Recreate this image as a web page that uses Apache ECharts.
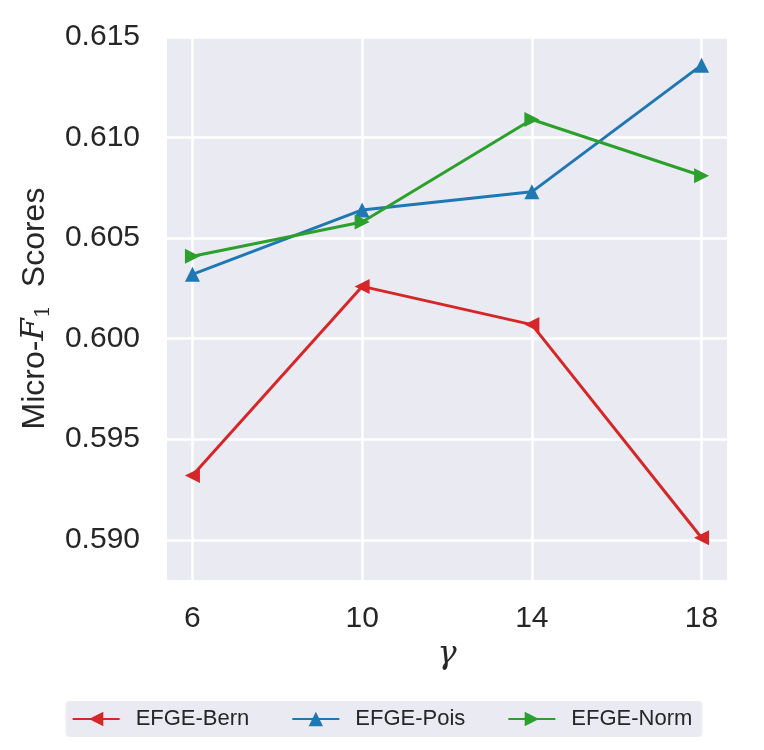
<!DOCTYPE html>
<html>
<head>
<meta charset="utf-8">
<script src="https://cdn.jsdelivr.net/npm/echarts@6/dist/echarts.min.js"></script>
<style>html,body{margin:0;padding:0;background:#fff}#c{width:764px;height:750px}</style>
</head>
<body>
<div id="c"></div>
<script>
const gammaValues = [6, 10, 14, 18];
const bern = [0.5932, 0.6026, 0.6007, 0.5901];
const pois = [0.6032, 0.6064, 0.6073, 0.6136];
const norm = [0.6041, 0.6058, 0.6109, 0.6081];
const yTicks = [0.590, 0.595, 0.600, 0.605, 0.610, 0.615];
const xTicks = [6, 10, 14, 18];
const seriesNames = ['EFGE-Bern', 'EFGE-Pois', 'EFGE-Norm'];
const colors = ['#d62728', '#1f77b4', '#2ca02c'];

const txt = '#262626';
const font = 'Liberation Sans';
const chart = echarts.init(document.getElementById('c'), null, {renderer: 'canvas'});

function mk(name, vals, color, rot) {
  return {
    name: name, type: 'line',
    data: gammaValues.map((g, i) => [g, vals[i]]),
    symbol: 'triangle', symbolSize: 15, symbolRotate: rot,
    showAllSymbol: true,
    lineStyle: {color: color, width: 3},
    itemStyle: {color: color},
    emphasis: {disabled: true},
    animation: false
  };
}

chart.setOption({
  animation: false,
  grid: {left: 167, right: 37, top: 37, bottom: 170, show: true, backgroundColor: '#EAEAF2', borderWidth: 0},
  xAxis: {
    type: 'value', min: 5.4, max: 18.6,
    name: 'γ', nameLocation: 'middle', nameGap: 58,
    nameTextStyle: {fontSize: 32, fontStyle: 'italic', fontFamily: 'DejaVu Serif', color: txt},
    axisLine: {show: false},
    axisTick: {show: false, customValues: xTicks},
    axisLabel: {customValues: xTicks, fontSize: 30, fontFamily: font, color: txt, margin: 24},
    splitLine: {show: true, lineStyle: {color: '#ffffff', width: 2.5}}
  },
  yAxis: {
    type: 'value', min: 0.588, max: 0.615,
    name: 'Micro-{f|F}{s|1}  Scores', nameLocation: 'middle', nameGap: 110,
    nameTextStyle: {
      fontSize: 32, fontFamily: font, color: txt, lineHeight: 38,
      rich: {
        f: {fontSize: 32, fontStyle: 'italic', fontFamily: 'DejaVu Serif', color: txt, lineHeight: 38},
        s: {fontSize: 21, fontFamily: 'DejaVu Serif', color: txt, lineHeight: 21, verticalAlign: 'bottom'}
      }
    },
    axisLine: {show: false},
    axisTick: {show: false, customValues: yTicks},
    axisLabel: {customValues: yTicks, fontSize: 30, fontFamily: font, color: txt, margin: 27,
      formatter: v => v.toFixed(3)},
    splitLine: {show: true, lineStyle: {color: '#ffffff', width: 2.5}}
  },
  legend: {
    data: seriesNames,
    left: 'center', top: 701,
    backgroundColor: '#EAEAF2', borderRadius: 4, borderWidth: 0,
    padding: [7, 10, 7, 6],
    itemWidth: 47, itemHeight: 18, itemGap: 42,
    textStyle: {fontSize: 22, fontFamily: font, color: txt, padding: [0, 0, 0, 11]}
  },
  series: [
    mk(seriesNames[0], bern, colors[0], 90),
    mk(seriesNames[1], pois, colors[1], 0),
    mk(seriesNames[2], norm, colors[2], -90)
  ]
});
</script>
</body>
</html>
